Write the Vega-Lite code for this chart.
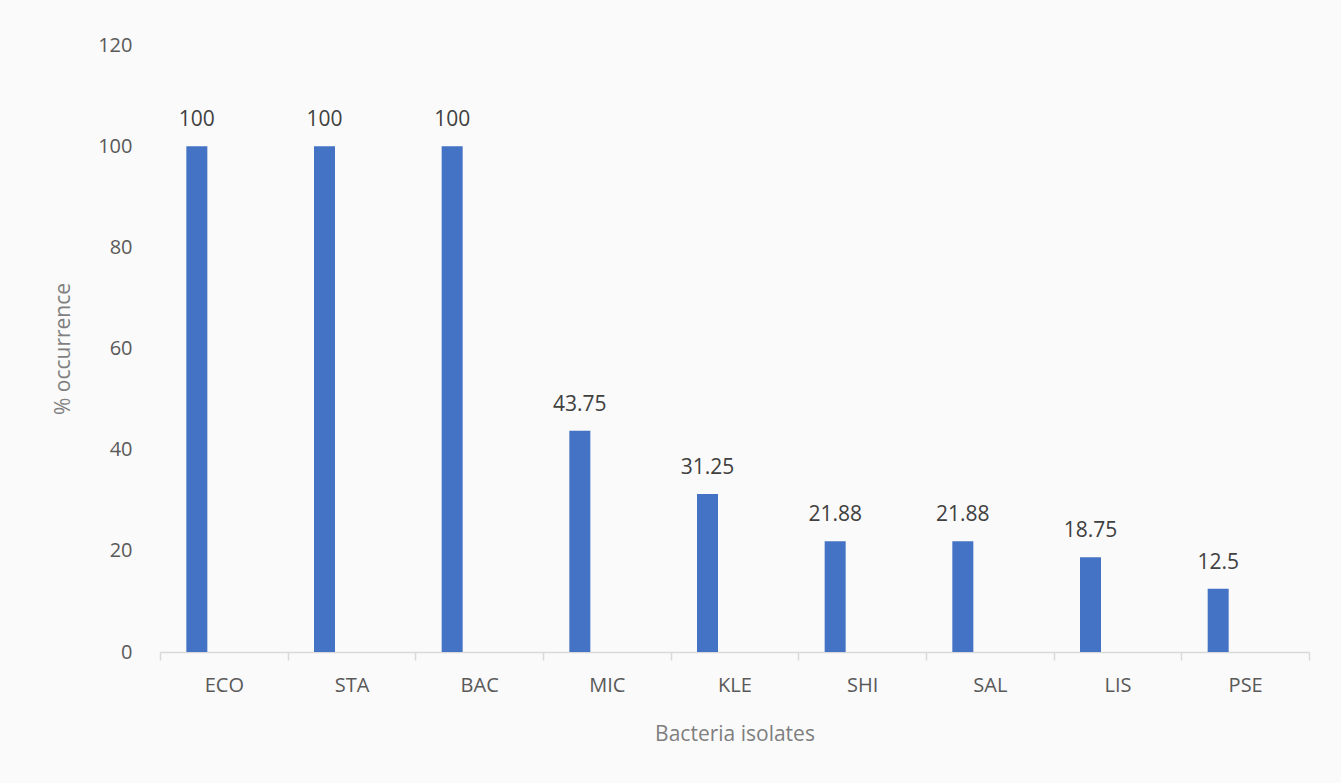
{
  "$schema": "https://vega.github.io/schema/vega-lite/v6.json",
  "autosize": {"type": "none"},
  "width": 1149,
  "height": 607,
  "padding": {"left": 160, "top": 45, "right": 32, "bottom": 131},
  "background": "#fafafa",
  "config": {
    "view": {"stroke": null},
    "font": "Open Sans"
  },
  "data": {
    "values": [
      {"isolate": "ECO", "pct": 100, "label": "100"},
      {"isolate": "STA", "pct": 100, "label": "100"},
      {"isolate": "BAC", "pct": 100, "label": "100"},
      {"isolate": "MIC", "pct": 43.75, "label": "43.75"},
      {"isolate": "KLE", "pct": 31.25, "label": "31.25"},
      {"isolate": "SHI", "pct": 21.88, "label": "21.88"},
      {"isolate": "SAL", "pct": 21.88, "label": "21.88"},
      {"isolate": "LIS", "pct": 18.75, "label": "18.75"},
      {"isolate": "PSE", "pct": 12.5, "label": "12.5"}
    ]
  },
  "encoding": {
    "x": {
      "field": "isolate",
      "type": "nominal",
      "sort": null,
      "scale": {"paddingInner": 0, "paddingOuter": 0},
      "axis": {
        "title": "Bacteria isolates",
        "titleFontSize": 21,
        "titleFontWeight": "normal",
        "titleColor": "#7f7f7f",
        "titlePadding": 28,
        "labelAngle": 0,
        "labelFontSize": 20,
        "labelColor": "#595959",
        "labelPadding": 15,
        "domainColor": "#d9d9d9",
        "domainWidth": 1.5,
        "tickColor": "#d9d9d9",
        "tickSize": 8,
        "tickWidth": 1.5,
        "tickBand": "extent",
        "grid": false
      }
    },
    "y": {
      "field": "pct",
      "type": "quantitative",
      "scale": {"domain": [0, 120], "nice": false},
      "axis": {
        "title": "% occurrence",
        "titleFontSize": 21,
        "titleFontWeight": "normal",
        "titleColor": "#7f7f7f",
        "titlePadding": 24,
        "values": [0, 20, 40, 60, 80, 100, 120],
        "labelFontSize": 20,
        "labelColor": "#595959",
        "labelPadding": 28,
        "domain": false,
        "ticks": false,
        "grid": false
      }
    }
  },
  "layer": [
    {
      "mark": {"type": "bar", "color": "#4472c4", "width": 21, "xOffset": -27}
    },
    {
      "mark": {"type": "text", "baseline": "bottom", "dy": -16, "xOffset": -27, "fontSize": 21, "color": "#404040"},
      "encoding": {"text": {"field": "label"}}
    }
  ]
}
